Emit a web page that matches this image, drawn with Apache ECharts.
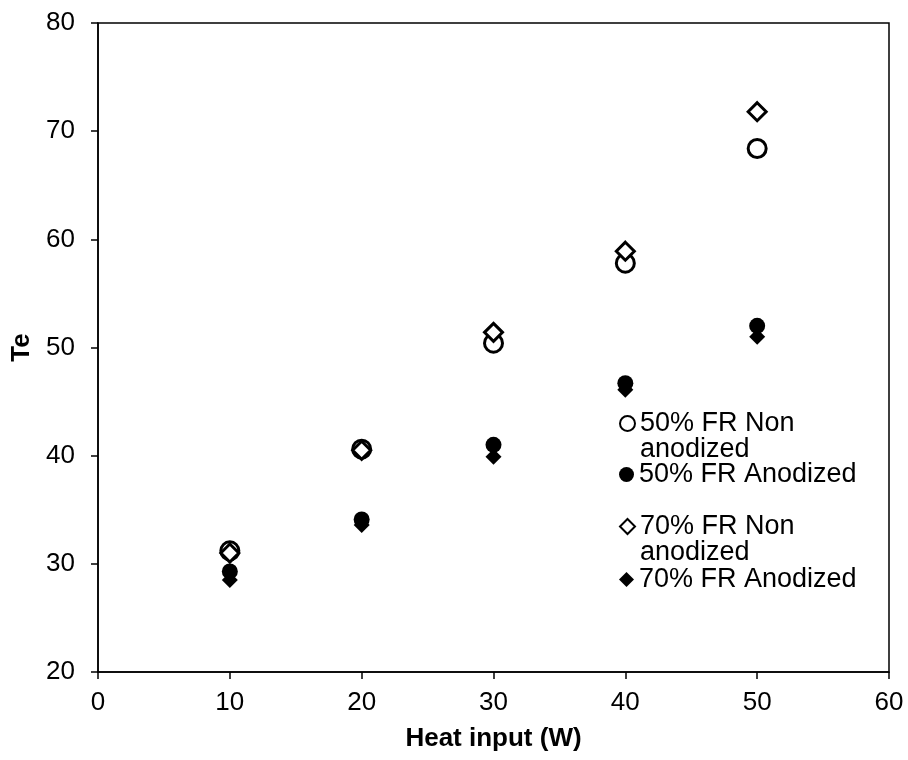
<!DOCTYPE html>
<html>
<head>
<meta charset="utf-8">
<script src="https://cdn.jsdelivr.net/npm/echarts@6/dist/echarts.min.js"></script>
<style>
html,body{margin:0;padding:0;background:#fff;}
#chart{width:908px;height:760px;}
</style>
</head>
<body>
<div id="chart"></div>
<script>
const heatInput = [10, 20, 30, 40, 50];
const fr50NonAnodized = [31.2, 40.6, 50.4, 57.8, 68.4];
const fr50Anodized = [29.3, 34.1, 41.0, 46.7, 52.0];
const fr70NonAnodized = [31.0, 40.5, 51.4, 58.9, 71.8];
const fr70Anodized = [28.5, 33.6, 39.9, 46.1, 51.0];
const seriesNames = ['50% FR Non anodized', '50% FR Anodized', '70% FR Non anodized', '70% FR Anodized'];

const FONT = 'Liberation Sans, Arial, sans-serif';
const pairs = arr => heatInput.map((x, i) => [x, arr[i]]);
const L = 26;

function legendFor(name, centerY, multi) {
  return {
    data: [name],
    left: 619,
    top: multi ? centerY - 1.5 * L : centerY - L / 2,
    padding: 0,
    itemWidth: 15,
    itemHeight: 15,
    itemGap: 0,
    selectedMode: false,
    formatter: n => (multi ? ' \n' + n.replace(' Non ', ' Non\n') : n),
    textStyle: {fontFamily: FONT, fontSize: 27, color: '#000', lineHeight: L}
  };
}

const chart = echarts.init(document.getElementById('chart'), null, {renderer: 'canvas'});
chart.setOption({
  animation: false,
  backgroundColor: '#fff',
  grid: {left: 98, right: 19, top: 23, bottom: 88, show: true, borderColor: '#000', borderWidth: 1.5, backgroundColor: 'transparent'},
  legend: [
    legendFor(seriesNames[0], 423, true),
    legendFor(seriesNames[1], 474, false),
    legendFor(seriesNames[2], 526, true),
    legendFor(seriesNames[3], 579, false)
  ],
  xAxis: {
    type: 'value', min: 0, max: 60, interval: 10,
    name: 'Heat input (W)', nameLocation: 'middle', nameGap: 54,
    nameTextStyle: {fontFamily: FONT, fontSize: 26, fontWeight: 'bold', color: '#000'},
    axisLine: {lineStyle: {color: '#000', width: 1.5}},
    axisTick: {show: true, inside: false, length: 7, lineStyle: {color: '#000', width: 1.5}},
    axisLabel: {fontFamily: FONT, fontSize: 26, color: '#000', margin: 18},
    splitLine: {show: false}
  },
  yAxis: {
    type: 'value', min: 20, max: 80, interval: 10,
    name: 'Te', nameLocation: 'middle', nameGap: 60,
    nameTextStyle: {fontFamily: FONT, fontSize: 26, fontWeight: 'bold', color: '#000'},
    axisLine: {show: true, lineStyle: {color: '#000', width: 1.5}},
    axisTick: {show: true, inside: false, length: 7, lineStyle: {color: '#000', width: 1.5}},
    axisLabel: {fontFamily: FONT, fontSize: 26, color: '#000', margin: 23},
    splitLine: {show: false}
  },
  series: [
    {name: seriesNames[0], type: 'scatter', data: pairs(fr50NonAnodized), symbol: 'circle', symbolSize: 18,
     itemStyle: {color: '#fff', borderColor: '#000', borderWidth: 3, opacity: 1}},
    {name: seriesNames[1], type: 'scatter', data: pairs(fr50Anodized), symbol: 'circle', symbolSize: 16,
     itemStyle: {color: '#000', borderColor: '#000', borderWidth: 0, opacity: 1}},
    {name: seriesNames[2], type: 'scatter', data: pairs(fr70NonAnodized), symbol: 'diamond', symbolSize: [18, 18],
     itemStyle: {color: '#fff', borderColor: '#000', borderWidth: 3, opacity: 1}},
    {name: seriesNames[3], type: 'scatter', data: pairs(fr70Anodized), symbol: 'diamond', symbolSize: [16, 16],
     itemStyle: {color: '#000', borderColor: '#000', borderWidth: 0, opacity: 1}}
  ]
});
</script>
</body>
</html>
